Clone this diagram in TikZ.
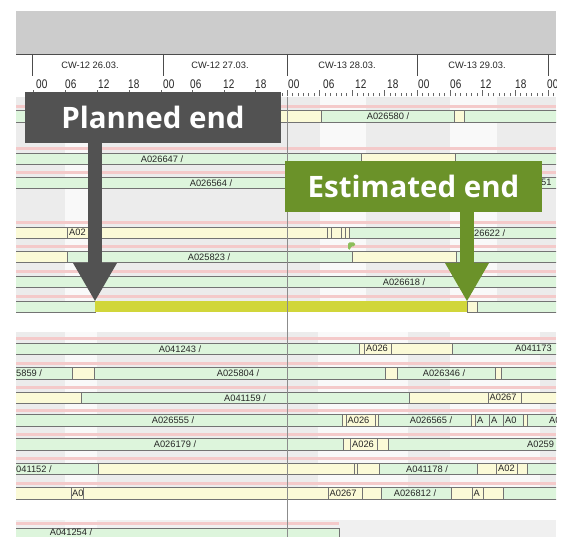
\documentclass[tikz,border=0pt]{standalone}
\usepackage{fontspec}
\setmainfont{Liberation Sans}
\newfontfamily\calloutfont{Open Sans}
\newfontfamily\hourfont{Liberation Sans}[FakeStretch=0.8]
\usepackage{xcolor}
\usetikzlibrary{arrows.meta}

\definecolor{headgray}{RGB}{204,204,204}
\definecolor{rowgray}{RGB}{236,236,236}
\definecolor{rowlight}{RGB}{249,249,249}
\definecolor{rowpink}{RGB}{244,202,202}
\definecolor{bargreen}{RGB}{221,245,220}
\definecolor{baryellow}{RGB}{251,250,215}
\definecolor{barline}{RGB}{115,115,115}
\definecolor{barhigh}{RGB}{209,214,58}
\definecolor{plannedgray}{RGB}{82,82,82}
\definecolor{estimgreen}{RGB}{107,146,41}
\definecolor{flaggreen}{RGB}{140,190,90}

\tikzstyle{green bar}=[fill=bargreen, draw=barline, line width=0.6pt]
\tikzstyle{yellow bar}=[fill=baryellow, draw=barline, line width=0.6pt]
\tikzstyle{bar label}=[font=\fontsize{9.3}{9.3}\selectfont, text=black!85, inner sep=0pt]
\tikzstyle{cw label}=[font=\fontsize{9.3}{9.3}\selectfont, text=black!85, inner sep=0pt]
\tikzstyle{hour label}=[font=\hourfont\fontsize{12.5}{12.5}\selectfont, text=black!85, anchor=west, inner sep=0pt]
\tikzstyle{callout}=[font=\calloutfont\bfseries\fontsize{29.5}{29.5}\selectfont, text=white, minimum height=51pt, inner sep=0pt]
\tikzstyle{callout arrow}=[line width=14pt, -{Triangle[width=44pt,length=38pt,line width=0pt]}]

\newcommand{\ganttpart}[4]{\draw[#1] (#2,#4) rectangle (#3,#4+11.5);}

\begin{document}
\begin{tikzpicture}[x=1pt,y=-1pt]
		\useasboundingbox (0,0) rectangle (566,537);

		\begin{scope}
		\clip (16,11) rectangle (556,537);
		\fill[headgray] (16,11) rectangle (556,54);
		\fill[white] (16,54) rectangle (556,97);
		\draw[black!70, line width=0.8pt] (16,54) -- (556,54);
		\foreach \x in {32,163,287,417,548}
			\draw[black!70, line width=0.8pt] (\x,54) -- (\x,76);
		\node[cw label] (cw1) at (90,65) {CW-12 26.03.};
		\node[cw label] (cw2) at (220,65) {CW-12 27.03.};
		\node[cw label] (cw3) at (347,65) {CW-13 28.03.};
		\node[cw label] (cw4) at (477,65) {CW-13 29.03.};

		\foreach \x/\t in {36/00,65/06,98/12,128/18,163/00,190/06,223/12,255/18,288/00,323/06,355/12,387/18,418/00,450/06,480/12,515/18,547/00}
			\node[hour label] at (\x,84.5) {\t};
		\foreach \s/\w in {33/128,161/126,287/130,417/131,548/130}{
			\foreach \h in {0,...,23}{
				\pgfmathsetmacro\tx{\s+\h*\w/24}
				\pgfmathsetmacro\tl{ifthenelse(mod(\h,6)==0,6,3)}
				\draw[black!60, line width=0.5pt] (\tx,96.5) -- (\tx,96.5-\tl);
			}
		}

		\fill[rowgray] (16,97) rectangle (556,312);
		\foreach \a/\b in {65/97,320/366,450/497}
			\fill[rowlight] (\a,97) rectangle (\b,312);
		\fill[rowgray] (16,332) rectangle (556,500);
		\foreach \a/\b in {65/97,318/408,450/540}
			\fill[rowlight] (\a,332) rectangle (\b,500);
		\fill[rowgray!80] (16,520) rectangle (556,537);
		\fill[rowlight] (65,520) rectangle (97,537);

		\foreach \y in {110.5,153,177,227,251,276,301,343,367.5,392,414.5,438.5,463,487.5}
			\fill[rowpink] (16,\y-5.5) rectangle (556,\y-2.5);
		\fill[rowpink] (16,522.5) rectangle (339,525.5);

		\ganttpart{green bar}{15}{100}{110.5}
		\ganttpart{yellow bar}{100}{321}{110.5}
		\ganttpart{green bar}{321}{454}{110.5}
		\ganttpart{yellow bar}{454}{464}{110.5}
		\ganttpart{green bar}{464}{557}{110.5}

		\ganttpart{green bar}{15}{361}{153}
		\ganttpart{yellow bar}{361}{455}{153}
		\ganttpart{green bar}{455}{557}{153}

		\ganttpart{green bar}{15}{557}{177}

		\ganttpart{yellow bar}{15}{67}{227}
		\ganttpart{yellow bar}{67}{327}{227}
		\ganttpart{yellow bar}{327}{331}{227}
		\ganttpart{yellow bar}{331}{341}{227}
		\ganttpart{yellow bar}{341}{345}{227}
		\ganttpart{yellow bar}{345}{349}{227}
		\ganttpart{green bar}{349}{557}{227}

		\ganttpart{yellow bar}{15}{67}{251}
		\ganttpart{green bar}{67}{352}{251}
		\ganttpart{yellow bar}{352}{456}{251}
		\ganttpart{green bar}{456}{557}{251}

		\ganttpart{green bar}{15}{557}{276}

		\ganttpart{green bar}{15}{95}{301}
		\fill[barhigh] (95,301) rectangle (467,312.5);
		\ganttpart{yellow bar}{467}{477}{301}
		\ganttpart{green bar}{477}{557}{301}

		\ganttpart{green bar}{15}{359}{343}
		\ganttpart{yellow bar}{359}{364}{343}
		\ganttpart{yellow bar}{364}{391}{343}
		\ganttpart{yellow bar}{391}{452}{343}
		\ganttpart{green bar}{452}{557}{343}

		\ganttpart{green bar}{15}{72}{367.5}
		\ganttpart{yellow bar}{72}{94}{367.5}
		\ganttpart{green bar}{94}{385}{367.5}
		\ganttpart{yellow bar}{385}{397}{367.5}
		\ganttpart{green bar}{397}{495}{367.5}
		\ganttpart{yellow bar}{495}{501}{367.5}
		\ganttpart{green bar}{501}{557}{367.5}

		\ganttpart{yellow bar}{15}{81}{392}
		\ganttpart{green bar}{81}{409}{392}
		\ganttpart{yellow bar}{409}{488}{392}
		\ganttpart{yellow bar}{488}{521}{392}
		\ganttpart{yellow bar}{521}{557}{392}

		\ganttpart{green bar}{15}{342}{414.5}
		\ganttpart{yellow bar}{342}{346}{414.5}
		\ganttpart{yellow bar}{346}{375}{414.5}
		\ganttpart{yellow bar}{375}{378}{414.5}
		\ganttpart{green bar}{378}{471}{414.5}
		\ganttpart{yellow bar}{471}{475}{414.5}
		\ganttpart{green bar}{475}{489}{414.5}
		\ganttpart{green bar}{489}{503}{414.5}
		\ganttpart{green bar}{503}{523}{414.5}
		\ganttpart{yellow bar}{523}{527}{414.5}
		\ganttpart{green bar}{527}{557}{414.5}

		\ganttpart{green bar}{15}{343}{438.5}
		\ganttpart{yellow bar}{343}{350}{438.5}
		\ganttpart{yellow bar}{350}{377}{438.5}
		\ganttpart{yellow bar}{377}{388}{438.5}
		\ganttpart{green bar}{388}{557}{438.5}

		\ganttpart{green bar}{15}{98}{463}
		\ganttpart{yellow bar}{98}{354}{463}
		\ganttpart{yellow bar}{354}{357}{463}
		\ganttpart{yellow bar}{357}{379}{463}
		\ganttpart{green bar}{379}{477}{463}
		\ganttpart{yellow bar}{477}{496}{463}
		\ganttpart{yellow bar}{496}{517}{463}
		\ganttpart{yellow bar}{517}{527}{463}
		\ganttpart{green bar}{527}{557}{463}

		\ganttpart{yellow bar}{15}{71}{487.5}
		\ganttpart{yellow bar}{71}{83}{487.5}
		\ganttpart{yellow bar}{83}{328}{487.5}
		\ganttpart{yellow bar}{328}{362}{487.5}
		\ganttpart{yellow bar}{362}{381}{487.5}
		\ganttpart{green bar}{381}{451}{487.5}
		\ganttpart{yellow bar}{451}{472}{487.5}
		\ganttpart{yellow bar}{472}{483}{487.5}
		\ganttpart{yellow bar}{483}{503}{487.5}
		\ganttpart{green bar}{503}{557}{487.5}

		\ganttpart{green bar}{15}{339}{528}

		\fill[flaggreen, rounded corners=1.5pt] (348,250) -- (348,242.5) -- (355,242.5) -- (355,246.5) -- (350.5,246.5) -- (350.5,250) -- cycle;
		\draw[black!45, line width=0.6pt] (287,97) -- (287,537);

		\node[bar label] (a026580) at (388,116.25) {A026580 /};
		\node[bar label] (a026647) at (162,158.75) {A026647 /};
		\node[bar label] (a026564) at (211,182.75) {A026564 /};
		\node[bar label, anchor=west] (tail51) at (541,182.75) {51};
		\node[bar label, anchor=west] (a02r4) at (69,232.75) {A02};
		\node[bar label] (a026622) at (484,232.75) {A026622 /};
		\node[bar label] (a025823) at (209,256.75) {A025823 /};
		\node[bar label] (a026618) at (404,281.75) {A026618 /};
		\node[bar label] (a041243) at (180,348.75) {A041243 /};
		\node[bar label, anchor=west] (a026r8) at (366,348.75) {A026};
		\node[bar label, anchor=west] (a041173) at (515,348.75) {A041173};
		\node[bar label, anchor=west] (tail5859) at (16,373.25) {5859 /};
		\node[bar label] (a025804) at (238,373.25) {A025804 /};
		\node[bar label] (a026346) at (444,373.25) {A026346 /};
		\node[bar label] (a041159) at (245,397.75) {A041159 /};
		\node[bar label, anchor=west] (a0267r10) at (489.5,397.75) {A0267};
		\node[bar label] (a026555) at (173,420.25) {A026555 /};
		\node[bar label, anchor=west] (a026r11) at (347.5,420.25) {A026};
		\node[bar label] (a026565) at (431,420.25) {A026565 /};
		\node[bar label, anchor=west] (ar11a) at (477,420.25) {A};
		\node[bar label, anchor=west] (ar11b) at (491,420.25) {A};
		\node[bar label, anchor=west] (a0r11a) at (505,420.25) {A0};
		\node[bar label, anchor=west] (a0r11b) at (549,420.25) {A0};
		\node[bar label] (a026179) at (175,444.25) {A026179 /};
		\node[bar label, anchor=west] (a026r12) at (352,444.25) {A026};
		\node[bar label, anchor=west] (a0259) at (527,444.25) {A0259};
		\node[bar label, anchor=west] (tail041152) at (16,468.75) {041152 /};
		\node[bar label] (a041178) at (427,468.75) {A041178 /};
		\node[bar label, anchor=west] (a02r13) at (498,468.75) {A02};
		\node[bar label, anchor=west] (a0r14) at (72,493.25) {A0};
		\node[bar label, anchor=west] (a0267r14) at (329.5,493.25) {A0267};
		\node[bar label] (a026812) at (415,493.25) {A026812 /};
		\node[bar label, anchor=west] (ar14) at (473.5,493.25) {A};
		\node[bar label] (a041254) at (71,532.3) {A041254 /};
		\end{scope}

		\node[callout, fill=plannedgray, minimum width=256pt] (planned) at (153,117.5) {Planned end};
		\node[callout, fill=estimgreen, minimum width=257pt] (estimated) at (413.5,186.5) {Estimated end};
		\coordinate (planned end) at (95,301);
		\coordinate (estimated end) at (467,301);

		\draw [style=callout arrow, draw=plannedgray] (planned.south -| planned end) to (planned end);
		\draw [style=callout arrow, draw=estimgreen] (estimated.south -| estimated end) to (estimated end);

\end{tikzpicture}
\end{document}
